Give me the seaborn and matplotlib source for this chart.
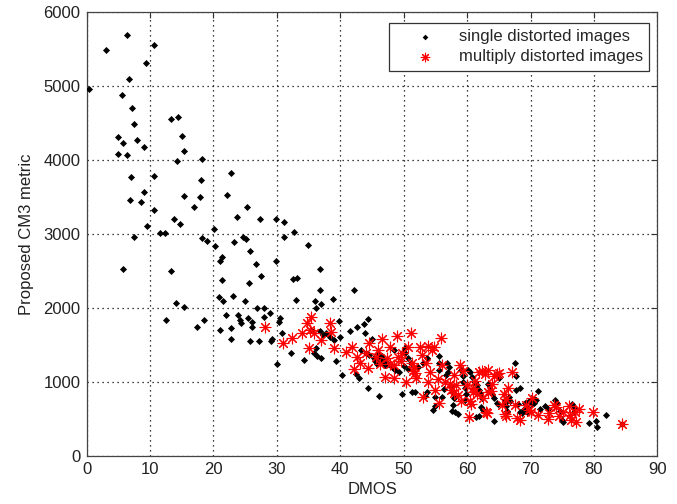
#scatter of proposed CM3 metric vs DMOS

import pandas as pd
import matplotlib
matplotlib.use('Agg')
import matplotlib.pyplot as plt
import seaborn as sns

# single distorted images (DMOS, metric)
single_pts=[(0.3,4960),(3.1,5490),(6.3,5685),(10.6,5550),(9.4,5306),(6.6,5099),(5.5,4878),(7.2,4707),(7.4,4486),(5.0,4315),
(5.7,4225),(8.0,4270),(9.0,4171),(4.9,4081),(6.4,4068),(13.3,4549),(14.4,4577),(15.1,4329),(15.4,4126),(14.2,3991),
(18.2,4009),(7.0,3775),(10.6,3788),(9.0,3568),(6.8,3455),(8.5,3428),(18.0,3730),(22.8,3820),(15.4,3509),(17.8,3496),
(17.0,3365),(22.1,3531),(10.6,3320),(25.3,3365),(23.7,3234),(13.8,3207),(14.7,3135),(9.5,3104),(27.3,3207),(29.8,3207),
(31.1,3162),(32.7,3031),(7.4,2959),(11.6,3018),(12.3,3018),(20.1,3063),(18.2,2946),(19.0,2905),(24.7,2959),(25.1,2932),
(23.2,2888),(31.1,2959),(34.9,2856),(20.3,2842),(25.7,2775),(21.3,2685),(21.0,2640),(26.7,2595),(29.9,2640),(5.7,2523),
(13.3,2496),(27.5,2432),(32.5,2396),(33.2,2405),(36.8,2523),(21.3,2378),(25.6,2333),(36.8,2243),(42.1,2243),(14.1,2072),
(15.4,2013),(20.9,2149),(21.5,2099),(23.0,2162),(25.0,2099),(33.0,2113),(36.0,2099),(37.0,2054),(38.9,2126),(36.1,1995),
(26.8,1995),(28.0,1995),(28.9,1937),(27.9,1883),(21.9,1910),(12.5,1838),(17.4,1748),(18.5,1838),(23.9,1910),(24.2,1838),
(24.4,1793),(26.1,1807),(26.0,1748),(25.4,1865),(21.1,1703),(22.8,1734),(22.8,1577),(25.7,1558),(27.1,1558),(29.2,1585),
(29.0,1558),(30.5,1865),(30.4,1811),(30.8,1662),(30.0,1239),(32.2,1396),(34.2,1297),(35.9,1388),(36.4,1355),(36.9,1328),
(36.2,1459),(36.8,1693),(37.3,1640),(37.8,1665),(39.8,1820),(39.3,1279),(41.6,1689),(42.6,1747),(43.7,1784),(44.3,1851),
(40.2,1090),(35.3,1703),(38.3,1612),(39.0,1568),(40.0,1612),(43.9,1658),(42.5,1108),(43.0,1050),(43.3,1430),(44.1,1400),
(44.6,1360),(45.3,1330),(45.9,1380),(45.4,1290),(46.2,1310),(45.8,1250),(46.6,1270),(47.0,1230),(44.3,923),(46.1,811),
(45.0,1577),(46.5,1350),(47.1,1290),(47.6,1240),(48.2,1200),(48.7,1170),(49.3,1130),(48.5,1432),(49.9,1410),(50.2,1455),
(49.7,834),(50.2,1390),(50.7,1320),(51.2,1260),(50.0,1220),(50.6,1180),(51.3,861),(51.8,861),(52.3,1210),(53.1,1255),
(53.6,1320),(53.3,815),(53.6,869),(54.6,617),(54.9,675),(54.9,800),(55.5,1351),(55.5,1252),(55.6,1167),(56.4,901),
(56.1,802),(56.9,1260),(57.2,1200),(57.0,1130),(56.6,1100),(57.5,945),(57.8,860),(58.0,790),(57.8,690),(57.6,610),
(58.1,600),(58.6,575),(59.0,1165),(59.3,1080),(59.4,1000),(59.6,920),(59.8,840),(59.6,760),(60.2,1170),(60.4,1130),
(60.7,1070),(61.3,1000),(61.6,960),(61.8,900),(62.1,850),(62.3,790),(62.2,670),(62.5,620),(61.8,540),(61.4,535),
(63.3,980),(63.6,900),(64.0,840),(64.3,790),(64.7,720),(64.2,480),(64.9,700),(64.7,1115),(65.1,1060),(66.0,720),
(66.2,680),(66.3,615),(67.6,1261),(67.7,1085),(67.7,900),(68.3,920),(66.6,805),(66.0,760),(66.7,740),(68.0,700),
(68.3,590),(69.2,720),(69.7,740),(70.3,700),(70.6,775),(71.1,880),(69.0,640),(68.6,580),(69.4,600),(69.6,650),
(70.5,720),(70.9,760),(71.5,630),(72.3,675),(72.8,630),(73.9,760),(74.2,715),(74.6,605),(74.9,490),(75.1,460),
(76.5,700),(76.8,650),(76.9,600),(79.2,442),(80.4,477),(80.5,388),(81.9,558),(84.4,432)]

# multiply distorted images
multi_pts=[(28.1,1743),(31.0,1523),(32.4,1590),(33.9,1658),(34.8,1802),(35.4,1882),(35.2,1703),(35.8,1658),(35.0,1455),
(38.4,1802),(38.6,1676),(37.0,1568),(39.0,1455),(40.9,1405),(41.8,1477),(42.6,1333),(42.2,1176),(43.1,1252),(44.3,1185),
(44.6,1531),(45.6,1342),(45.9,1432),(46.6,1577),(47.0,1072),(48.5,1050),(47.4,1320),(47.8,1243),(49.1,1342),(48.9,1622),
(49.5,1280),(49.8,1387),(48.4,1230),(51.1,1658),(51.3,1252),(50.3,1004),(51.6,1200),(51.8,1120),(52.0,1050),(51.4,1150),
(52.5,1477),(53.9,1487),(54.4,1432),(54.8,1477),(55.9,1595),(53.5,1252),(53.8,1004),(53.1,800),(55.0,887),(55.4,1045),
(55.5,712),(56.5,1004),(57.3,980),(57.4,900),(58.8,1230),(59.4,1145),(58.6,820),(58.3,965),(59.0,748),(57.9,850),
(60.3,531),(60.5,750),(60.9,860),(61.0,925),(60.6,705),(61.9,1140),(62.4,1149),(63.3,1162),(62.8,1108),(61.5,835),
(62.5,780),(63.3,870),(63.7,878),(63.1,580),(62.9,600),(64.3,1085),(64.7,1108),(65.1,1122),(65.8,835),(66.2,770),
(66.4,925),(67.0,1140),(65.9,572),(66.2,536),(67.9,514),(68.3,490),(69.3,689),(70.3,780),(69.7,620),(70.0,590),
(72.8,496),(72.9,577),(73.7,689),(74.0,666),(75.1,600),(76.1,680),(76.4,487),(77.0,600),(77.2,464),(77.7,631),
(79.9,599),(84.4,432),(44.0,1400),(46.2,1250),(47.9,1480),(50.6,1480),(52.9,1360),(54.2,1140),(56.0,1230),(58.0,1090),
(60.0,960),(61.2,1020),(63.9,980),(65.5,690),(67.5,690),(71.2,560),(74.5,540),(76.3,560)]

x_ticks=list(range(0,91,10))
y_ticks=list(range(0,6001,1000))

single_df=pd.DataFrame(single_pts,columns=['DMOS','metric'])
multi_df=pd.DataFrame(multi_pts,columns=['DMOS','metric'])

sns.set_style('white')
plt.rcParams['font.family']=['Liberation Sans','DejaVu Sans']

fig=plt.figure(figsize=(6.77,5.04),dpi=100)
ax=fig.add_axes([0.128,0.095,0.843,0.881])

sns.scatterplot(data=single_df,x='DMOS',y='metric',ax=ax,marker='D',s=13,color='black',
                linewidth=0,label='single distorted images',zorder=3)
sns.scatterplot(data=multi_df,x='DMOS',y='metric',ax=ax,marker=(8,2,0),s=60,color='red',
                edgecolor='red',linewidth=0.8,label='multiply distorted images',zorder=4)

ax.set_xlim(0,90)
ax.set_ylim(0,6000)
ax.set_xticks(x_ticks)
ax.set_yticks(y_ticks)
ax.set_xlabel('DMOS',fontsize=12,color='#222222',labelpad=3)
ax.set_ylabel('Proposed CM3 metric',fontsize=12,color='#222222',labelpad=7)
ax.tick_params(direction='in',length=4,top=True,right=True,labelsize=12,pad=4.5,
               color='#333333',labelcolor='#222222')
ax.grid(True,linestyle=(0,(1,3)),color='black',linewidth=0.9)
for sp in ax.spines.values():
    sp.set_color('#444444')
    sp.set_linewidth(0.9)

leg=ax.legend(loc='upper right',bbox_to_anchor=(0.9856,0.976),borderaxespad=0,fontsize=12,
              frameon=True,fancybox=False,borderpad=0.38,handlelength=3.6,handletextpad=0.2,
              labelspacing=0.32,markerscale=0.8)
leg.get_frame().set_edgecolor('#333333')
leg.get_frame().set_linewidth(0.9)
leg.get_frame().set_alpha(1)

fig.savefig('out.png',dpi=100)
plt.close()
